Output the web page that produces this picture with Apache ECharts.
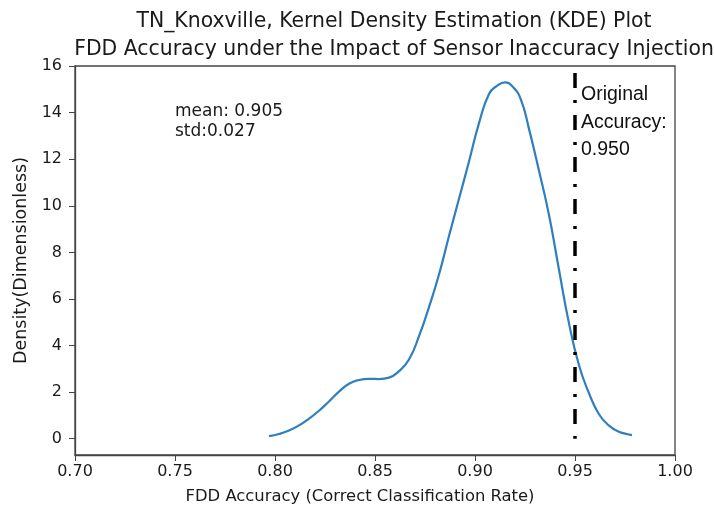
<!DOCTYPE html>
<html>
<head>
<meta charset="utf-8">
<script src="https://cdn.jsdelivr.net/npm/echarts@6/dist/echarts.min.js"></script>
<style>
  html, body { margin: 0; padding: 0; background: #fff; }
  #chart { width: 714px; height: 513px; }
</style>
</head>
<body>
<div id="chart"></div>
<script>
// KDE curve
const kdeX = [0.797, 0.802, 0.807, 0.812, 0.817, 0.822, 0.827, 0.832, 0.837, 0.842,
  0.847, 0.852, 0.857, 0.862, 0.867, 0.872, 0.877, 0.882, 0.887, 0.892,
  0.897, 0.902, 0.907, 0.911, 0.915, 0.919, 0.923, 0.927, 0.932, 0.937, 0.942,
  0.947, 0.952, 0.957, 0.962, 0.967, 0.972, 0.977, 0.9785]
const kdeY = [0.11, 0.2, 0.35, 0.57, 0.86, 1.2, 1.6, 2.02, 2.36, 2.52,
  2.57, 2.56, 2.62, 2.9, 3.4, 4.4, 5.65, 7.05, 8.7, 10.3,
  11.9, 13.55, 14.8, 15.15, 15.3, 15.1, 14.55, 13.3, 11.5, 9.6, 7.25,
  4.95, 3.15, 1.95, 1.05, 0.56, 0.3, 0.18, 0.15]

const originalAcc = 0.95
const refLineY = [15.7, 0]
const yTicks = [0, 2, 4, 6, 8, 10, 12, 14, 16]

const titleLines = [
  'TN_Knoxville, Kernel Density Estimation (KDE) Plot',
  'FDD Accuracy under the Impact of Sensor Inaccuracy Injection'
]
const statsText = ['mean: 0.905', 'std:0.027']
const origText = ['Original', 'Accuracy:', '0.950']

const font = 'DejaVu Sans, sans-serif'
const axisColor = '#444'
const textColor = '#1a1a1a'

const chart = echarts.init(document.getElementById('chart'))

chart.setOption({
  animation: false,
  title: {
    text: titleLines.join('\n'),
    left: 389,
    top: 3,
    textAlign: 'center',
    textStyle: { fontFamily: font, fontSize: 20.4, fontWeight: 'normal', color: textColor, lineHeight: 28 }
  },
  grid: {
    left: 75, right: 39, top: 66, bottom: 58,
    show: true, borderColor: axisColor, borderWidth: 1.3, backgroundColor: 'transparent'
  },
  xAxis: {
    type: 'value',
    min: 0.70, max: 1.00, interval: 0.05,
    name: 'FDD Accuracy (Correct Classification Rate)',
    nameLocation: 'middle',
    nameGap: 34,
    nameTextStyle: { fontFamily: font, fontSize: 16.4, color: textColor, padding: [0, 30, 0, 0] },
    axisLine: { show: true, onZero: false, lineStyle: { color: axisColor, width: 1.3 } },
    axisTick: { show: true, length: 6, lineStyle: { color: axisColor } },
    axisLabel: {
      fontFamily: font, fontSize: 16, color: textColor, margin: 9,
      formatter: v => v.toFixed(2)
    },
    splitLine: { show: false }
  },
  yAxis: {
    type: 'value',
    min: -0.7, max: 16,
    name: 'Density(Dimensionless)',
    nameLocation: 'middle',
    nameGap: 45,
    nameTextStyle: { fontFamily: font, fontSize: 17.5, color: textColor },
    axisLine: { show: true, onZero: false, lineStyle: { color: axisColor, width: 1.3 } },
    axisTick: { show: true, length: 6, customValues: yTicks, lineStyle: { color: axisColor } },
    axisLabel: { fontFamily: font, fontSize: 16, color: textColor, margin: 13, customValues: yTicks },
    splitLine: { show: false }
  },
  series: [
    {
      type: 'line',
      data: kdeX.map((x, i) => [x, kdeY[i]]),
      smooth: 0.5,
      showSymbol: false,
      lineStyle: { color: '#2f7fbf', width: 2.2 }
    },
    {
      type: 'line',
      data: refLineY.map(y => [originalAcc, y]),
      showSymbol: false,
      lineStyle: { color: '#000', width: 3.5, type: [15, 12, 3, 12], cap: 'butt' }
    }
  ],
  graphic: [
    {
      type: 'text', left: 175, top: 102,
      style: { text: statsText.join('\n'), font: '17px ' + font, fill: textColor, lineHeight: 20 }
    },
    {
      type: 'text', left: 581, top: 81,
      style: { text: origText.join('\n'), font: '19.5px Liberation Sans, sans-serif', fill: '#111', lineHeight: 27.5 }
    }
  ]
})
</script>
</body>
</html>
